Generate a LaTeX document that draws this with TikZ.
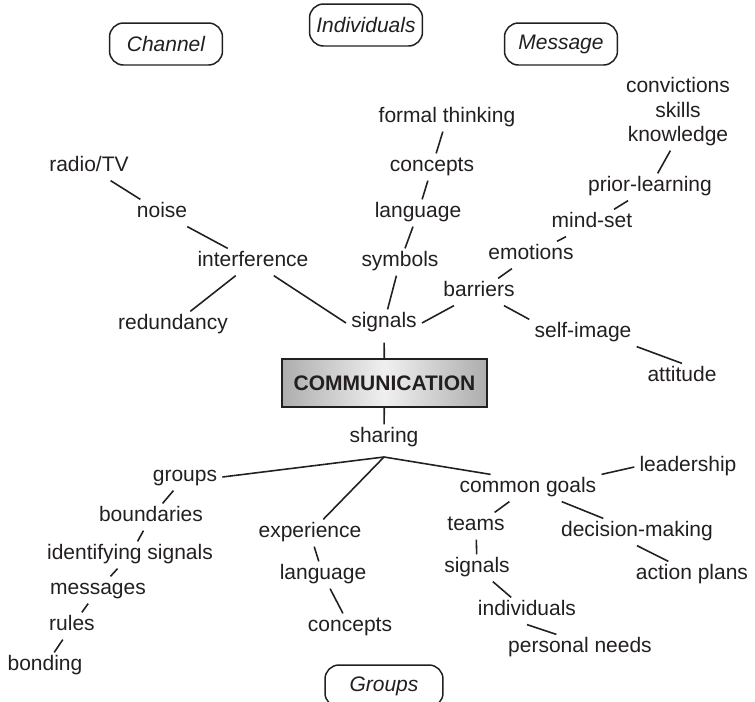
\documentclass[tikz,border=0pt]{standalone}
\usepackage{fontspec}
\setmainfont{Liberation Sans}
\usepackage{tikz}
\usetikzlibrary{shapes,positioning,calc}
\usepackage{xcolor}
\definecolor{ink}{RGB}{35,31,32}

\begin{document}
\begin{tikzpicture}[
    x=0.02cm, y=-0.02cm,
    word/.style={inner sep=0pt, outer sep=3pt, text=ink, font=\fontsize{11.95pt}{14pt}\selectfont,
                 text height=0.74em, text depth=0.21em},
    topic/.style={draw=ink, line width=0.85pt, rounded corners=0.28cm, minimum width=2.26cm,
                  minimum height=0.84cm, text=ink, font=\fontsize{11.95pt}{14pt}\selectfont\itshape},
    core/.style={draw=ink, line width=1.1pt, minimum width=4.1cm, minimum height=0.96cm,
                 left color=black!32, right color=black!32, middle color=black!6,
                 text=ink, font=\fontsize{11.95pt}{14pt}\selectfont\bfseries},
    link/.style={draw=ink, line width=0.9pt}
]
\useasboundingbox (0,0) rectangle (755,701);
\clip (0,0) rectangle (755,701);

% Topic boxes
\node[topic] (channel) at (166,44) {Channel};
\node[topic] (indiv) at (366,25) {Individuals};
\node[topic] (message) at (561,44) {Message};
\node[topic, minimum width=2.36cm] (groupsbox) at (384,686) {Groups};

% Centre
\node[core] (comm) at (384.5,383) {COMMUNICATION};
\node[word] (sig) at (384,323) {signals};
\node[word] (share) at (384,438) {sharing};
\coordinate (fork) at (384,457);

\draw[link, shorten <=0.12cm] (sig) -- (comm);
\draw[link] (comm) -- (share);

% Interference branch (upper left)
\node[word] (radio) at (89,167) {radio/TV};
\node[word] (noise) at (162,213) {noise};
\node[word] (intf) at (253,262) {interference};
\node[word] (redun) at (173,325) {redundancy};

\draw[link] (radio) -- (noise);
\draw[link] (noise) -- (intf);
\draw[link] (intf) -- (redun);
\draw[link] (intf) -- (sig.west);

% Symbols branch (upper middle)
\node[word] (formal) at (447,118) {formal thinking};
\node[word] (concA) at (432,167) {concepts};
\node[word] (langA) at (418,213) {language};
\node[word] (symb) at (400,262) {symbols};

\draw[link] (formal) -- (concA);
\draw[link] (concA) -- (langA);
\draw[link] (langA) -- (symb);
\draw[link] (symb) -- (sig);

% Barriers branch (upper right)
\node[word] (conv) at (678,88) {convictions};
\node[word] (skills) at (678,113) {skills};
\node[word] (know) at (678,137) {knowledge};
\node[word] (prior) at (650,187) {prior-learning};
\node[word] (mind) at (592,223) {mind-set};
\node[word] (emot) at (531,255) {emotions};
\node[word] (barr) at (479,292) {barriers};
\node[word] (self) at (583,333) {self-image};
\node[word] (att) at (682,377) {attitude};

\draw[link] (sig.east) -- (barr);
\draw[link] (barr) -- (emot);
\draw[link] (emot) -- (mind);
\draw[link] (mind) -- (prior);
\draw[link] (prior) -- (know);
\draw[link] (barr) -- (self.north west);
\draw[link] (self.south east) -- (att.north);

% Groups branch (lower left)
\node[word] (groups) at (185,477) {groups};
\node[word] (bound) at (151,517) {boundaries};
\node[word] (ident) at (130,555) {identifying signals};
\node[word] (mess) at (98,590) {messages};
\node[word] (rules) at (72,626) {rules};
\node[word] (bond) at (45,666) {bonding};

\draw[link] (fork) -- (groups.east);
\draw[link] (groups) -- (bound);
\draw[link] (bound) -- (ident);
\draw[link] (ident) -- (mess);
\draw[link] (mess) -- (rules);
\draw[link] (rules) -- (bond);

% Experience branch (lower middle)
\node[word] (exper) at (310,533) {experience};
\node[word] (langB) at (323,575) {language};
\node[word] (concB) at (350,627) {concepts};

\draw[link] (fork) -- (exper);
\draw[link] (exper) -- (langB);
\draw[link] (langB) -- (concB);

% Common goals branch (lower right)
\node[word] (goals) at (528,488) {common goals};
\node[word] (lead) at (688,467) {leadership};
\node[word] (teams) at (476,526) {teams};
\node[word] (dec) at (637,532) {decision-making};
\node[word] (sigB) at (477,568) {signals};
\node[word] (action) at (692,575) {action plans};
\node[word] (indivB) at (527,611) {individuals};
\node[word] (needs) at (580,648) {personal needs};

\draw[link] (fork) -- (goals.160);
\draw[link] (goals.north east) -- (lead.west);
\draw[link] (goals) -- (teams);
\draw[link] (goals) -- (dec);
\draw[link] (dec.south) -- (action.150);
\draw[link] (teams) -- (sigB);
\draw[link] (sigB) -- (indivB);
\draw[link] (indivB.south) -- (needs.150);

\end{tikzpicture}
\end{document}
